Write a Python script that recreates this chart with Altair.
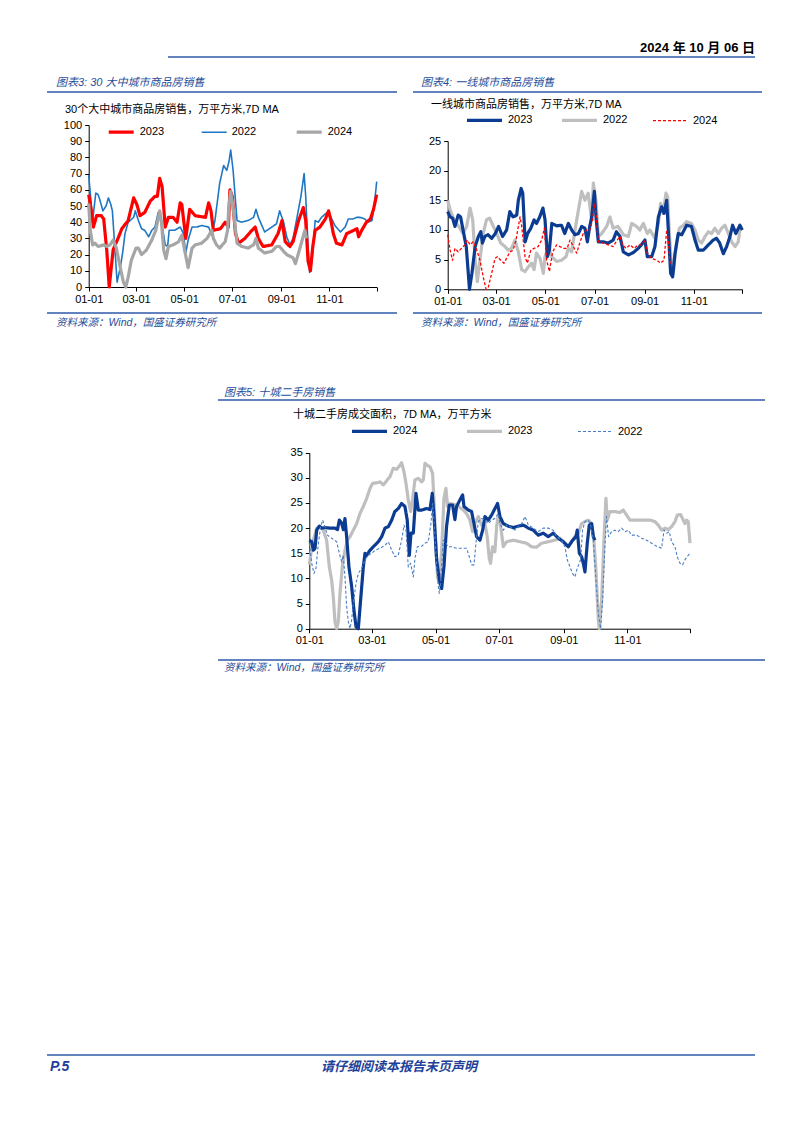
import altair as alt
import pandas as pd

W, H = 802, 1133
LAT = "Liberation Sans, Noto Sans CJK SC"
CJK = "Noto Sans CJK SC, Liberation Sans"
BLUE_TXT = "#1F4E99"
RULE_C = "#2F5AA8"

TICK_DAYS = [0, 60, 121, 182, 244, 305, 365]
TICK_LABELS = ["01-01", "03-01", "05-01", "07-01", "09-01", "11-01", ""]

# ---------------- Chart 3: 30 large/mid cities (day-of-year, value) ----------------
c3_2023 = [(0, 57), (3, 48), (6, 37), (10, 44), (16, 44), (19, 42), (23, 22), (26, 0), (31, 23),
           (38, 31), (42, 36), (50, 41), (57, 55), (61, 51), (65, 44), (71, 46), (78, 53), (84, 56),
           (87, 56), (90, 67), (93, 62), (97, 37), (101, 43), (107, 43), (112, 40), (116, 52),
           (118, 51), (123, 30), (128, 48), (135, 44), (148, 43), (152, 52), (155, 47), (158, 35),
           (167, 36), (173, 40), (177, 37), (179, 60), (182, 56), (186, 33), (190, 27), (198, 30),
           (205, 34), (211, 37), (215, 30), (221, 25), (232, 26), (240, 33), (245, 41), (249, 28),
           (255, 25), (259, 28), (266, 41), (272, 49), (275, 41), (278, 16), (281, 10), (284, 25),
           (287, 35), (293, 37), (300, 42), (304, 47), (307, 41), (310, 33), (314, 27), (321, 26),
           (327, 33), (336, 35), (340, 36), (342, 31), (346, 35), (352, 40), (357, 42), (361, 48),
           (365, 57)]
c3_2022 = [(0, 69), (2, 58), (5, 41), (9, 58), (12, 57), (14, 54), (18, 47), (22, 50), (25, 55),
           (28, 51), (30, 47), (33, 25), (36, 3), (40, 12), (43, 21), (46, 33), (50, 40), (57, 43),
           (59, 47), (63, 41), (67, 36), (71, 35), (76, 31), (80, 35), (84, 37), (88, 46), (92, 41),
           (97, 26), (100, 25), (102, 35), (109, 35), (116, 37), (120, 33), (123, 21), (126, 29),
           (131, 37), (137, 37), (143, 38), (152, 37), (156, 32), (160, 41), (166, 64), (171, 75),
           (175, 72), (178, 78), (180, 84.5), (183, 72), (188, 41), (194, 40), (202, 41), (209, 43),
           (212, 48), (215, 43), (223, 34), (232, 37), (238, 39), (242, 47), (247, 40), (251, 31),
           (255, 26), (259, 30), (264, 43), (269, 56), (273, 70), (275, 56), (278, 25), (280, 9),
           (283, 16), (287, 41), (291, 40), (295, 43), (302, 46), (306, 44), (312, 38), (319, 34),
           (325, 37), (329, 42), (335, 42), (340, 43), (344, 43), (350, 42), (354, 40), (359, 41),
           (362, 51), (365, 65)]
c3_2024 = [(0, 51.5), (2, 35), (5, 26), (8, 27), (12, 25), (19, 26), (23, 25), (27, 26), (31, 29),
           (35, 24), (40, 12), (44, 3), (47, 0), (50, 6), (54, 16.5), (60, 24), (63, 24), (67, 20),
           (73, 22.7), (80, 29), (85, 35), (90, 47), (92, 41), (95, 23), (98, 17.5), (101, 25),
           (107, 26), (114, 28), (118, 32), (122, 21.6), (126, 12), (131, 24), (135, 26), (143, 27),
           (150, 30), (156, 35), (158, 30), (162, 26), (166, 24), (173, 28), (176, 35), (177.5, 49),
           (180, 59), (183, 49), (188, 27), (194, 25), (202, 24), (209, 26), (212, 30), (215, 24),
           (223, 21), (232, 22), (238, 25), (242, 25), (247, 22), (251, 20), (255, 19), (259, 18),
           (262, 14.4), (266, 21), (270, 28), (274, 35), (276, 30)]

# ---------------- Chart 4: tier-1 cities ----------------
c4_2023 = [(0, 13.1), (3, 12.2), (6, 12), (9, 10.6), (13, 12.5), (16, 12.2), (19, 10), (23, 7.2),
           (27, 0), (30, 2.7), (34, 7.2), (38, 8.9), (41, 9.7), (43, 7.8), (46, 8.9), (50, 9.2),
           (54.5, 8.6), (59, 9.4), (63, 10.6), (68, 8.9), (73, 10), (77, 13.1), (81, 12.2),
           (85.5, 12.5), (87.5, 15), (91, 17), (93, 16.2), (96, 8), (99, 9.4), (103, 10.3),
           (107, 11.7), (110, 11.1), (114, 12.2), (118, 13.7), (120.6, 11.7), (123.5, 5.5),
           (126, 6.6), (129, 11.1), (135, 10.7), (141, 10.8), (145, 9.4), (149.5, 11.1), (153.6, 10),
           (157.7, 9.2), (162, 9.4), (166, 10.6), (170, 10.3), (173, 8), (176, 10.6), (178.4, 12.2),
           (181.7, 16.5), (183.7, 12.2), (186.6, 8), (192.8, 8), (199, 7.8), (205, 8.3), (209, 9.7),
           (213.5, 8.9), (217.6, 6.3), (224, 5.8), (230, 6.2), (236, 6.9), (240, 7.5), (244.4, 8.3),
           (247.3, 5.5), (252.7, 5.5), (256.8, 7.2), (261, 12.2), (265, 13.9), (268, 12.8),
           (271.3, 15), (273.3, 10), (276.2, 2.7), (278.7, 2.1), (281.6, 6), (285.7, 9.4),
           (290, 9.2), (296, 10.8), (302, 10.6), (306.4, 8.3), (310.5, 6.6), (316.7, 6.6),
           (323, 7.5), (329, 8.3), (333, 8.6), (337, 7.8), (341.5, 6), (345.6, 7.2), (349.7, 8.9),
           (353, 10.8), (357, 9.4), (362, 10.8), (365, 10)]
c4_2022 = [(0, 15), (3, 13.4), (7, 12), (11, 11.1), (15, 10.3), (19, 9.4), (23.5, 10.6), (27.7, 13.7),
           (31, 11.7), (34, 5), (36.7, 1.3), (40, 5), (44, 9.4), (48, 11.7), (52, 12), (56.6, 10.6),
           (60.7, 9.4), (65.7, 7.8), (71, 7.2), (75, 6.6), (79, 6.9), (83.4, 8.3), (87.5, 6.3),
           (91.7, 3.3), (95.8, 3), (100, 3.8), (104, 4.4), (107, 3.3), (110, 6.1), (114.4, 5.2),
           (118.5, 2.7), (120.6, 5.5), (124.7, 7.2), (128.8, 5.5), (135, 4.7), (141, 4.9),
           (146.6, 5.5), (149.5, 6.9), (153.6, 6.3), (157.7, 10), (162, 13.4), (166, 16.5),
           (170, 15), (174, 16.2), (178.4, 11.7), (180.4, 17.9), (183.7, 15), (186.6, 8.9),
           (190.8, 9.4), (197, 10.6), (201, 12.2), (205, 10.3), (211, 10.6), (217.6, 9.2),
           (223.8, 8.9), (228, 11.1), (234, 10.6), (238, 10), (242.4, 11.1), (247.3, 9.4), (250.6, 10),
           (256.8, 8.6), (261, 11.1), (263.8, 14.5), (267, 12.8), (270.4, 16.2), (272.5, 15.6),
           (274.6, 9.4), (277.5, 3.3), (279.5, 2.7), (282.8, 7.2), (287, 10.3), (292, 10.8),
           (296, 11.4), (302, 11.1), (306.4, 10), (310.5, 8.3), (314.6, 7.8), (318.8, 8.9),
           (323, 9.7), (327, 9.4), (331, 10.3), (335.3, 9.4), (339.4, 10.3), (343.5, 10.8),
           (347.7, 9.4), (351.8, 8), (356, 7.2), (360, 8), (362, 10), (365, 10.3)]
c4_2024 = [(0, 9.2), (3, 6.6), (6, 4.9), (9, 6.9), (13, 6.3), (17, 6.9), (21.5, 7.5), (24.4, 8.3),
           (27.7, 7.5), (31.8, 8), (36, 6.6), (40, 4.9), (44, 2.1), (47.5, 0), (50.4, 0.4), (54.5, 2.7),
           (58.6, 5.2), (61.5, 5.5), (65.7, 4.9), (69.8, 4.4), (74, 5.5), (77, 6.3), (81, 6.6),
           (84.6, 8.3), (89.6, 12.2), (91.7, 10.6), (95.8, 5.5), (98.7, 4.4), (103, 6.6), (107, 6.9),
           (112, 7.2), (116.4, 8.3), (119.7, 10.3), (122.6, 4.9), (126, 3), (130, 6.3), (135, 7.5),
           (139, 7.2), (144, 6.9), (148, 6.9), (151.5, 8.3), (155.7, 7.2), (159.8, 6.1), (164, 8),
           (168, 9.4), (172, 10), (176, 10), (179.6, 11.7), (181.3, 14.5), (183.7, 12.8), (186.6, 8),
           (192.8, 7.8), (199, 7.5), (205, 7.2), (210, 8.3), (213.5, 8.9), (216.8, 7.5), (221, 6.9),
           (226, 7.5), (231, 6.9), (236, 7.5), (240, 7.5), (244.4, 8.3), (247.3, 6.1), (252.7, 5.2),
           (259, 4.9), (263.8, 4.4), (268, 4.9), (271.3, 10), (273.3, 8.3), (275.4, 4.4), (277.5, 4.1)]

# ---------------- Chart 5: ten cities second-hand ----------------
c5_2024 = [(0, 17.6), (2.3, 17.3), (3.9, 15.6), (5.5, 16), (7.1, 19.6), (9.6, 20.4), (12, 20),
           (15, 20.1), (20, 20), (24.6, 20), (27, 19.7), (28.8, 21.6), (31, 21), (32.6, 19.7),
           (34.2, 21.9), (35.8, 18.3), (38, 12.3), (40.6, 8.4), (42.8, 3.7), (44.8, 0.4), (47, 0),
           (49.2, 5.7), (51.8, 12.3), (53.4, 15), (55, 14.6), (58.2, 15.6), (61.4, 16.3), (66.2, 17.3),
           (69.4, 18.3), (72.6, 20), (75.8, 20.3), (79, 21.6), (82, 23.3), (85.3, 23.9), (88.5, 24.9),
           (91.7, 24.3), (93.9, 21.6), (95.9, 14.6), (97.5, 19), (99.7, 19), (102.3, 26.9),
           (104.5, 23.6), (107.7, 23.6), (112.5, 23.9), (115.7, 23.7), (117.9, 26.9), (119.5, 22.6),
           (122.1, 13.7), (124.6, 9.7), (126.9, 8), (129.1, 12.3), (131.6, 20.3), (134.2, 24.6),
           (137.4, 24.6), (139.6, 21.7), (141.2, 24.3), (144.4, 25.6), (147, 26.6), (148.3, 24.3),
           (152.4, 23.6), (155.6, 23.3), (157.2, 21.6), (160.4, 18.3), (163.6, 17.6), (166.2, 19.6),
           (168.4, 22.3), (171.6, 21.6), (174.8, 22.6), (178, 23.9), (180.5, 24.9), (182.8, 22.3),
           (186, 20.9), (190.8, 20.4), (195.6, 20.1), (200.4, 20.4), (205.2, 20.6), (210, 20),
           (214.8, 19.6), (219.5, 18.6), (224.3, 19), (229, 18.3), (234, 19), (238.7, 18),
           (243.5, 17.3), (248.3, 16.3), (252.5, 17.6), (255.6, 18.3), (256.9, 19.6), (258.9, 15),
           (261.1, 14.3), (262.7, 13), (264.3, 11.3), (266.5, 17), (268.4, 20.6), (270.7, 20.9),
           (272.3, 18.3), (273.9, 17.6)]
c5_2023 = [(0, 12.7), (1.6, 15), (3.9, 17.6), (7.1, 20), (10.3, 20.3), (13.4, 19.6), (16.6, 17.6),
           (19.2, 12.3), (21.4, 9.7), (23, 6.4), (24.6, 1.4), (26.2, 0), (27.8, 1.4), (29.4, 7),
           (32, 13), (34.2, 15.6), (36.5, 17.6), (39, 18.3), (42.2, 19.6), (45.4, 20.9), (48.6, 22.9),
           (51.8, 24.3), (55, 25.9), (58.2, 27.9), (60.7, 28.9), (64.6, 29), (67.8, 29.2), (71, 28.6),
           (74.8, 29.6), (77.3, 30.2), (80.5, 31.9), (83.7, 31.7), (86.9, 32.5), (88.5, 33),
           (90.8, 31.2), (92.7, 28.9), (94.9, 25.6), (97.2, 23.3), (99.1, 25.9), (101.3, 29.6),
           (104.5, 29.9), (107.7, 29.2), (109.3, 29.6), (110.9, 32.9), (113.1, 32.5), (115.7, 32.2),
           (118.2, 30.9), (119.8, 24.3), (121.4, 16.3), (123, 10.3), (124.6, 9), (126.9, 15.6),
           (129.1, 25.9), (131, 27.9), (132.6, 24.3), (134.9, 24.9), (141.2, 24.6), (147.6, 23.6),
           (150.8, 22.9), (154, 21.6), (156.6, 19.3), (158.8, 20.9), (162, 22.3), (165.2, 20.6),
           (168.4, 20.9), (170.6, 18.3), (172.5, 14), (173.8, 13), (175.7, 16.3), (177.9, 15.3),
           (179.6, 20.3), (181.2, 22.6), (182.7, 21.6), (186, 16.3), (189.2, 17.3), (195.6, 17.6),
           (202, 17.3), (208.3, 17), (213.1, 16.3), (217.9, 16.2), (222.7, 17), (229.1, 17.3),
           (235.3, 17.6), (240.3, 18), (245, 17), (248.3, 16.3), (251.5, 17.3), (254.7, 18.3),
           (257.9, 19), (261.1, 20.9), (264.3, 21.3), (267.5, 21.6), (270.7, 20.9), (272.9, 17.6),
           (275, 11), (277.1, 1.7), (278.1, 0), (280.3, 5.7), (282.5, 17.6), (284.4, 25.9),
           (285.7, 21.6), (288.2, 23.3), (293, 23.3), (297.8, 23.1), (301, 23.6), (304.2, 22.6),
           (307.4, 21.6), (313.8, 21.6), (320.2, 21.6), (326.6, 21.6), (331.4, 21.3), (334.6, 20.6),
           (337.8, 19.6), (341, 20), (344.2, 19.7), (347.4, 20.3), (350.6, 21.3), (352.8, 22.6),
           (356, 22.7), (358.5, 21.6), (360.1, 20.9), (361.7, 21.6), (363.3, 21.3), (365, 17)]
c5_2022 = [(0, 17), (2.3, 13), (4.5, 11), (6.4, 12), (8.7, 17), (10.9, 20.3), (12.8, 21.6), (15, 20.3),
           (17.3, 18.6), (21.4, 18), (26.2, 17.3), (28.8, 15), (31, 13.3), (32.6, 14.6), (34.2, 10.3),
           (35.8, 4.4), (37.4, 1.4), (39, 0), (40.6, 1.7), (42.2, 5), (44.8, 9), (47, 11), (50.2, 12),
           (53.4, 13.7), (56.6, 14.6), (59.8, 15), (63, 15.6), (67.8, 16), (72.6, 16.6), (75.8, 17.3),
           (79, 15.6), (82.1, 14.3), (85.3, 14.6), (88.5, 17.6), (90.8, 20.6), (92.7, 19.6),
           (94.9, 12.3), (97.2, 13), (99.7, 10.3), (101.3, 14), (103.5, 16.3), (107.7, 16.4),
           (110.9, 17), (114.1, 17.3), (116.6, 20.9), (118.2, 24.9), (119.8, 20.9), (121.4, 15),
           (123, 9.7), (124.6, 7), (125.9, 9), (128.4, 17.6), (131, 17), (133.2, 16.3), (136.4, 16.3),
           (141.2, 16), (146, 16), (150.8, 16), (153.4, 14.3), (155.6, 12.7), (157.9, 12.7), (159.8, 17),
           (162, 21.3), (165.2, 21.9), (168.4, 21.6), (171.6, 20.9), (174.8, 21.6), (178, 21.9),
           (181.2, 22.9), (182.8, 20.9), (186, 19.6), (189.2, 20.6), (192.4, 20.3), (197.2, 19.6),
           (200.4, 20.3), (203.6, 20.9), (206.8, 22.3), (210, 20.6), (214.8, 20), (219.5, 19.3),
           (224.3, 20), (229.1, 20), (233.9, 19.6), (237.1, 18.3), (241.9, 17.6), (245.1, 16.3),
           (247.3, 13.7), (249.9, 12.3), (252.4, 11), (254.7, 10.3), (256.9, 12), (260.1, 13.7),
           (262, 19.6), (264.3, 21.3), (267.5, 21.6), (269.7, 20.6), (272.3, 17.6), (274.8, 9.7),
           (277.1, 3), (279.3, 0), (281.2, 5.7), (283.4, 16.3), (285, 22.3), (286.9, 18.3),
           (289.8, 19.3), (293, 19.6), (296.2, 19.3), (299.4, 20), (302.6, 19.3), (305.8, 19.6),
           (309, 18.6), (313.8, 18.6), (318.6, 18), (323.4, 17.6), (328.2, 17), (333, 16.4),
           (337.8, 16), (340.1, 19.6), (342.6, 19), (345.1, 19.3), (347.4, 17.3), (350.6, 16.3),
           (352.8, 14.3), (355.4, 13), (357.9, 12.7), (360.1, 13.7), (363.3, 14.6), (365, 15)]

LABEL_EXPR = " : ".join(f"datum.value == {d} ? '{l}'" for d, l in zip(TICK_DAYS, TICK_LABELS)) + " : ''"


def panel(series, names, draw_order, colors, widths, dashes, xr, yr, ydom, yvals,
          leg_x, leg_cy, sym_len, col_pad):
    rows = []
    for name in draw_order:
        for d, v in series[name]:
            rows.append({"series": name, "day": d, "value": v})
    df = pd.DataFrame(rows)
    leg = alt.Legend(orient="none", legendX=leg_x, legendY=leg_cy - sym_len / 2,
                     direction="horizontal",
                     title=None, symbolType="stroke", symbolSize=sym_len * sym_len,
                     labelFont=LAT, labelFontSize=11, labelColor="black", labelOffset=4,
                     columnPadding=col_pad, padding=0)
    return alt.Chart(df).mark_line(strokeJoin="round").encode(
        x=alt.X("day:Q",
                scale=alt.Scale(domain=[0, 365], range=list(xr), nice=False, zero=False),
                axis=alt.Axis(orient="bottom", offset=yr[0] - H, values=TICK_DAYS,
                              labelExpr=LABEL_EXPR, title=None, grid=False, labelFlush=False,
                              labelOverlap=False, labelFont=LAT, labelFontSize=11,
                              labelColor="black", domainColor="black", tickColor="black",
                              tickSize=4, labelPadding=2)),
        y=alt.Y("value:Q",
                scale=alt.Scale(domain=ydom, range=list(yr), nice=False, zero=False),
                axis=alt.Axis(orient="left", offset=-xr[0], values=yvals, title=None, grid=False,
                              labelFlush=False, labelOverlap=False, labelFont=LAT,
                              labelFontSize=11, labelColor="black", domainColor="black",
                              tickColor="black", tickSize=4, labelPadding=3)),
        color=alt.Color("series:N", scale=alt.Scale(domain=names, range=colors), legend=leg),
        strokeWidth=alt.StrokeWidth("series:N",
                                    scale=alt.Scale(type="ordinal", domain=names, range=widths),
                                    legend=leg),
        strokeDash=alt.StrokeDash("series:N", scale=alt.Scale(domain=names, range=dashes),
                                  legend=leg),
    )


SOLID = [1, 0]
DASH = [3, 2]

p3 = panel({"2023": c3_2023, "2022": c3_2022, "2024": c3_2024},
           ["2023", "2022", "2024"], ["2022", "2023", "2024"],
           ["#FF0000", "#1F77C4", "#A6A6A6"], [3.2, 1.6, 3.2], [SOLID, SOLID, SOLID],
           (88.7, 376.7), (287, 125), [0, 100], list(range(0, 101, 10)),
           106.7, 130, 25, 33)
p4 = panel({"2023": c4_2023, "2022": c4_2022, "2024": c4_2024},
           ["2023", "2022", "2024"], ["2022", "2023", "2024"],
           ["#0C3C91", "#BFBFBF", "#FF0000"], [3.2, 3.2, 1.3], [SOLID, SOLID, DASH],
           (447.7, 742.3), (289.3, 141), [0, 25], [0, 5, 10, 15, 20, 25],
           465, 118.3, 35, 22)
p5 = panel({"2024": c5_2024, "2023": c5_2023, "2022": c5_2022},
           ["2024", "2023", "2022"], ["2023", "2024", "2022"],
           ["#0C3C91", "#BFBFBF", "#4A7EC5"], [3.2, 3.2, 1.1], [SOLID, SOLID, DASH],
           (309.3, 690), (628.7, 452.7), [0, 35], [0, 5, 10, 15, 20, 25, 30, 35],
           350, 429.3, 35, 42)

dummy = pd.DataFrame({"k": [0]})


def txt(s, x, y, size, color="black", weight="normal", style="normal", align="left", font=LAT):
    return alt.Chart(dummy).mark_text(text=s, align=align, baseline="alphabetic", fontSize=size,
                                      font=font, color=color, fontWeight=weight,
                                      fontStyle=style).encode(x=alt.value(x), y=alt.value(y))


def hrule(x1, x2, y, w=1.6, color=RULE_C):
    return alt.Chart(dummy).mark_rule(color=color, strokeWidth=w).encode(
        x=alt.value(x1), x2=alt.value(x2), y=alt.value(y))


SRC = "资料来源：Wind，国盛证券研究所"
deco = [
    txt("2024 年 10 月 06 日", 755, 52, 13, weight="bold", align="right"),
    hrule(168, 755, 57),
    txt("图表3: 30 大中城市商品房销售", 56, 86, 11, color=BLUE_TXT, style="italic"),
    hrule(47, 397, 92),
    txt("30个大中城市商品房销售，万平方米,7D MA", 65, 113, 11),
    hrule(47, 397, 313),
    txt(SRC, 56, 326, 10.5, color=BLUE_TXT, style="italic"),
    txt("图表4: 一线城市商品房销售", 421, 86, 11, color=BLUE_TXT, style="italic"),
    hrule(413, 762, 92),
    txt("一线城市商品房销售，万平方米,7D MA", 431, 108, 11),
    hrule(413, 762, 313),
    txt(SRC, 421, 326, 10.5, color=BLUE_TXT, style="italic"),
    txt("图表5: 十城二手房销售", 224, 396, 11, color=BLUE_TXT, style="italic"),
    hrule(218, 765, 400),
    txt("十城二手房成交面积，7D MA，万平方米", 293, 418, 11),
    hrule(218, 765, 660),
    txt(SRC, 224, 671, 10.5, color=BLUE_TXT, style="italic"),
    hrule(47, 755, 1055),
    txt("P.5", 50, 1071, 14, color="#1F3F99", weight="bold", style="italic"),
    txt("请仔细阅读本报告末页声明", 399, 1071, 13, color="#1F3F99", weight="bold",
        style="italic", align="center", font=CJK),
]

chart = alt.layer(p3, p4, p5, *deco).resolve_scale(
    x="independent", y="independent", color="independent",
    strokeWidth="independent", strokeDash="independent"
).properties(
    width=W, height=H, autosize=alt.AutoSizeParams(type="none"), padding=0, background="white"
).configure_view(stroke=None)

chart.save("out.html", embed_options={"renderer": "svg", "actions": False})
